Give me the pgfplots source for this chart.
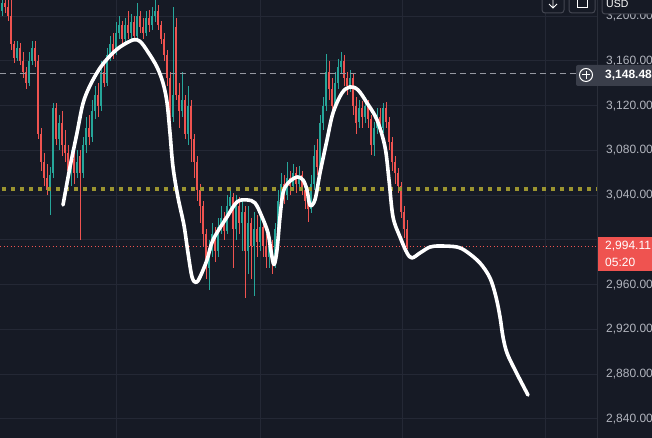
\documentclass[border=0pt]{standalone}
\usepackage{pgfplots}
\pgfplotsset{compat=1.18}
\usepackage{pgfplotstable}
\usepackage{fontspec}
\setmainfont{Liberation Sans}
\definecolor{bg}{HTML}{161A25}
\definecolor{gridc}{HTML}{242835}
\definecolor{upc}{HTML}{26A69A}
\definecolor{dnc}{HTML}{EF5350}
\definecolor{lbl}{HTML}{B2B5BE}
\definecolor{sepc}{HTML}{2A2E39}
\definecolor{dashc}{HTML}{9598A1}
\definecolor{yel}{RGB}{155,148,48}
\definecolor{boxg}{HTML}{3A3E4A}
\definecolor{btn}{HTML}{434651}

\pgfplotstableread{
x o h l c
2 3205 3220 3200 3212
17 3163 3178 3160 3172
29 3140 3168 3138 3160
32 3160 3178 3156 3172
50 3045 3065 3022 3058
53 3060 3122 3055 3118
59 3090 3112 3080 3105
71 3062 3080 3048 3072
77 3060 3080 3055 3070
83 3060 3092 3055 3085
86 3085 3110 3078 3100
92 3092 3125 3088 3115
95 3115 3138 3108 3130
101 3120 3160 3115 3150
107 3140 3172 3138 3165
110 3165 3182 3160 3175
116 3168 3195 3165 3185
119 3185 3200 3180 3192
125 3180 3198 3176 3192
131 3185 3202 3180 3195
137 3182 3212 3178 3200
146 3185 3205 3182 3198
152 3192 3208 3188 3200
155 3200 3215 3195 3205
173 3110 3208 3105 3130
182 3115 3150 3110 3125
188 3095 3138 3085 3120
209 2975 3000 2955 2990
212 2990 3015 2985 3005
218 2990 3020 2985 3012
221 3012 3030 3005 3020
227 3008 3040 3005 3030
230 3030 3045 3025 3038
236 3010 3040 3000 3030
242 3015 3035 2990 3025
248 2990 3030 2970 3015
254 2995 3025 2950 3010
260 2998 3025 2990 3012
269 2985 3005 2975 2995
275 2980 3015 2975 3010
278 3010 3045 3005 3035
281 3035 3060 3030 3050
287 3040 3070 3036 3055
293 3048 3068 3045 3060
299 3050 3066 3045 3058
311 3028 3058 3024 3050
314 3050 3085 3045 3075
320 3065 3112 3062 3105
323 3105 3128 3098 3120
326 3120 3166 3115 3150
335 3120 3150 3115 3140
338 3140 3162 3135 3155
341 3155 3168 3148 3160
350 3138 3152 3132 3145
359 3105 3125 3100 3118
365 3110 3128 3105 3120
374 3085 3105 3075 3100
377 3100 3118 3095 3110
383 3100 3122 3096 3118
}\up

\pgfplotstableread{
x o h l c
5 3212 3222 3203 3208
8 3208 3218 3196 3200
11 3200 3216 3170 3175
14 3175 3178 3158 3163
20 3172 3176 3156 3160
23 3160 3168 3145 3150
26 3150 3155 3135 3140
35 3172 3178 3155 3160
38 3160 3165 3090 3095
41 3095 3100 3062 3070
44 3070 3078 3048 3055
47 3055 3068 3040 3045
56 3118 3122 3085 3090
62 3105 3115 3075 3085
65 3085 3098 3070 3078
68 3078 3085 3058 3062
74 3072 3078 3050 3060
80 3075 3080 3000 3060
89 3100 3112 3085 3092
98 3130 3140 3110 3120
104 3150 3158 3137 3140
113 3175 3185 3162 3168
122 3192 3196 3175 3180
128 3192 3205 3180 3185
134 3195 3200 3178 3182
140 3200 3205 3185 3190
143 3190 3198 3180 3185
149 3198 3206 3186 3192
158 3205 3210 3188 3192
161 3192 3196 3175 3180
164 3180 3185 3160 3165
167 3165 3170 3138 3145
170 3145 3150 3100 3110
176 3190 3198 3125 3130
179 3130 3140 3100 3115
185 3125 3130 3090 3095
191 3120 3125 3070 3090
194 3090 3095 3055 3070
197 3070 3075 3035 3045
200 3045 3050 3015 3030
203 3030 3035 2995 3005
206 3005 3010 2965 2975
215 3005 3012 2980 2990
224 3020 3025 3000 3008
233 3038 3042 2975 3010
239 3030 3038 3005 3015
245 3025 3030 2948 2990
251 3015 3020 2965 2995
257 3010 3022 2985 2998
263 3012 3018 2985 2995
266 2995 3005 2975 2985
272 2995 3000 2970 2980
284 3050 3058 3032 3040
290 3055 3062 3040 3048
296 3060 3065 3042 3050
302 3058 3062 3040 3045
305 3045 3050 3028 3035
308 3035 3045 3016 3028
317 3080 3090 3058 3065
329 3150 3160 3125 3135
332 3135 3145 3112 3120
344 3160 3165 3138 3145
347 3145 3150 3130 3138
353 3145 3148 3112 3120
356 3120 3128 3095 3105
362 3118 3124 3100 3110
368 3120 3125 3100 3108
371 3108 3112 3076 3085
380 3110 3118 3095 3102
386 3118 3123 3100 3105
389 3105 3110 3080 3088
392 3088 3092 3062 3070
395 3070 3075 3050 3060
398 3060 3064 3042 3048
401 3048 3052 3020 3025
404 3025 3030 3002 3010
407 3010 3018 2992 2994.11
}\down

\begin{document}
\begin{tikzpicture}
\path[use as bounding box, fill=bg] (0,0) rectangle (652pt,438pt);
\begin{axis}[
  at={(0,0)}, anchor=south west,
  width=597pt, height=438pt, scale only axis,
  xmin=0, xmax=597, ymin=2823, ymax=3214.5,
  axis line style={draw=none},
  major tick length=0pt,
  tick style={draw=none},
  xtick=\empty,
  ytick={2840,2880,2920,2960,3000,3040,3080,3120,3160,3200},
  yticklabels={{2,840.00},{2,880.00},{2,920.00},{2,960.00},{},{3,040.00},{3,080.00},{3,120.00},{3,160.00},{3,200.00}},
  yticklabel pos=right,
  yticklabel style={anchor=west, inner sep=0pt, xshift=9pt, text=lbl, font=\fontsize{12}{14}\selectfont},
  ymajorgrids=true,
  grid style={draw=gridc, line width=1pt},
]
% vertical time grid
\draw[gridc, line width=1pt] (axis cs:116,2823) -- (axis cs:116,3214.5)
  (axis cs:260,2823) -- (axis cs:260,3214.5)
  (axis cs:402.5,2823) -- (axis cs:402.5,3214.5)
  (axis cs:545,2823) -- (axis cs:545,3214.5);
% price lines
\addplot[dnc, line width=1pt, dash pattern=on 1pt off 2.5pt, forget plot] coordinates {(0,2994.11) (597,2994.11)};
% wicks
\addplot[draw=none, mark=none, forget plot, error bars/.cd, y dir=both, y explicit, error mark=none,
  error bar style={draw=upc, line width=0.9pt}]
  table[x=x, y expr={(\thisrow{h}+\thisrow{l})/2}, y error expr={(\thisrow{h}-\thisrow{l})/2}] {\up};
\addplot[draw=none, mark=none, forget plot, error bars/.cd, y dir=both, y explicit, error mark=none,
  error bar style={draw=dnc, line width=0.9pt}]
  table[x=x, y expr={(\thisrow{h}+\thisrow{l})/2}, y error expr={(\thisrow{h}-\thisrow{l})/2}] {\down};
% bodies
\addplot[draw=none, mark=none, forget plot, error bars/.cd, y dir=both, y explicit, error mark=none,
  error bar style={draw=upc, line width=2.2pt}]
  table[x=x, y expr={(\thisrow{o}+\thisrow{c})/2}, y error expr={(\thisrow{c}-\thisrow{o})/2}] {\up};
\addplot[draw=none, mark=none, forget plot, error bars/.cd, y dir=both, y explicit, error mark=none,
  error bar style={draw=dnc, line width=2.2pt}]
  table[x=x, y expr={(\thisrow{o}+\thisrow{c})/2}, y error expr={(\thisrow{o}-\thisrow{c})/2}] {\down};
% horizontal lines
\addplot[dashc, line width=1pt, dash pattern=on 6pt off 4pt, forget plot] coordinates {(0,3148.48) (576,3148.48)};
\addplot[yel, line width=3.5pt, dash pattern=on 3.5pt off 5.5pt, forget plot] coordinates {(2,3045.6) (597,3045.6)};
% projection curve
\addplot[white, line width=3.6pt, smooth, tension=0.55, line cap=round, line join=round, forget plot] coordinates {
(63,3031.3) (70,3065.2) (77,3095.6) (83,3122) (90,3138) (100,3153.7) (110,3164.5) (120,3172.5)
(133,3178.8) (140,3177.5) (148,3168) (157,3154.6) (163,3140.3) (167,3123) (170,3095.6) (173,3065.2)
(178,3038) (184,3013) (188,2988.4) (192,2967) (196,2962) (200,2966.9) (207,2982.1) (213,3000)
(227,3020.6) (237,3034) (247,3035.8) (255,3033.1) (262,3020.6) (268,3006.3) (271,2990) (274,2978)
(277,2991.1) (280,3020.6) (283,3042) (288,3050.9) (297,3056.3) (303,3053.6) (307,3044.7) (310,3031)
(315,3036) (320,3059.9) (327,3089.4) (333,3113.5) (342,3131.4) (350,3136.8) (358,3134.1) (367,3122.5)
(377,3107.3) (385,3083.1) (389,3053.6) (393,3020.6) (400,3002.7) (407,2988.4) (412,2984) (420,2988.4)
(430,2993.7) (440,2994.6) (457,2993.7) (467,2989.3) (480,2979.4) (490,2966) (496,2949) (500,2931.2)
(503,2913.3) (507,2899) (515,2883.8) (528,2861.4)};
\end{axis}
% right-side separator
\draw[sepc, line width=1pt] (597pt,0) -- (597pt,438pt);
% current price box 3148.48
\fill[boxg, rounded corners=2pt] (576pt,352pt) rectangle (660pt,373pt);
\draw[white, line width=1pt] (586pt,363pt) circle (6.5pt);
\draw[white, line width=1pt] (582pt,363pt) -- (590pt,363pt) (586pt,359pt) -- (586pt,367pt);
\node[anchor=west, inner sep=0pt, text=white, font=\fontsize{12}{14}\selectfont\bfseries] at (605pt,363pt) {3,148.48};
% last price box
\fill[dnc] (598pt,167pt) rectangle (660pt,201pt);
\node[anchor=west, inner sep=0pt, text=white, font=\fontsize{12}{14}\selectfont] at (605pt,192pt) {2,994.11};
\node[anchor=west, inner sep=0pt, text=white, font=\fontsize{12}{14}\selectfont] at (605pt,176pt) {05:20};
% top buttons
\draw[btn, fill=bg, line width=1pt, rounded corners=3pt] (602pt,424pt) rectangle (665pt,445pt);
\node[anchor=west, inner sep=0pt, text=white, font=\fontsize{10.5}{12}\selectfont] at (606pt,434pt) {USD};
\draw[btn, fill=bg, line width=1pt, rounded corners=3pt] (542pt,425pt) rectangle (564pt,445pt);
\draw[btn, fill=bg, line width=1pt, rounded corners=3pt] (569pt,425pt) rectangle (595pt,445pt);
\draw[white, line width=0.9pt] (553pt,440pt) -- (553pt,430pt) (549pt,434pt) -- (553pt,430pt) -- (557pt,434pt);
\draw[white, line width=0.9pt] (577pt,438pt) -- (577pt,431pt) -- (587pt,431pt) -- (587pt,438pt);
\end{tikzpicture}
\end{document}
